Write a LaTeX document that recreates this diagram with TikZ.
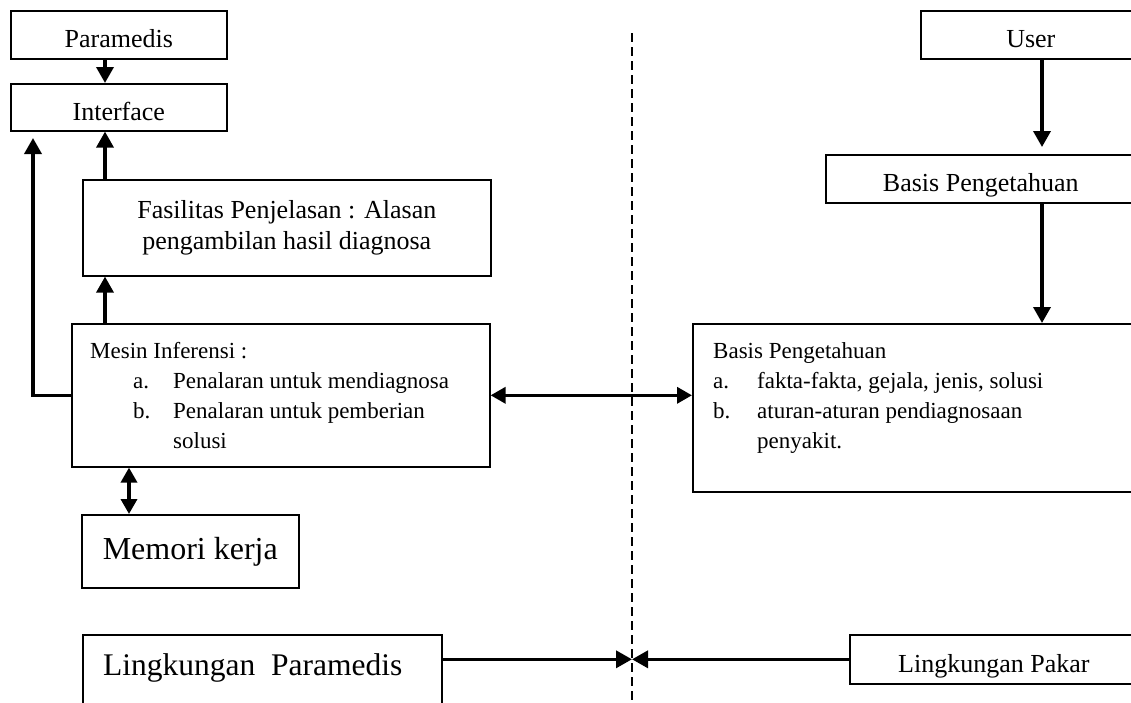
\documentclass[tikz,border=0pt]{standalone}
\usepackage{fontspec}
\setmainfont{Liberation Serif}
\usetikzlibrary{arrows.meta}

\begin{document}
\begin{tikzpicture}[x=1pt, y=-1pt,
        box/.style={draw, line width=1.6pt, anchor=north west, inner sep=0pt, align=center,
                    font=\fontsize{26}{31}\selectfont},
        single/.style={text height=26pt, text depth=0pt},
        txt/.style={anchor=north west, inner sep=0pt, align=left, font=\fontsize{23}{30}\selectfont},
        arrow/.style={-{Triangle[length=16pt,width=17pt]}, line width=3.5pt},
        dbl/.style={{Triangle[length=15pt,width=16pt]}-{Triangle[length=15pt,width=16pt]}, line width=3.5pt},
        divider/.style={line width=2pt, dash pattern=on 9pt off 5pt}
    ]
        \clip (0,0) rectangle (1131,702);

        \node[box, single, minimum width=216pt, minimum height=48pt] (paramedis) at (10,10) {Paramedis};
        \node[box, single, minimum width=216pt, minimum height=47pt] (interface) at (10,83) {Interface};
        \node[box, minimum width=408pt, minimum height=96pt] (fasilitas) at (82,179) {Fasilitas Penjelasan : Alasan\\pengambilan hasil diagnosa};
        \node[box, minimum width=418pt, minimum height=143pt] (mesin) at (71,323) {};
        \node[box, minimum width=217pt, minimum height=73pt, font=\fontsize{32}{38}\selectfont] (memori) at (81,514) {Memori kerja};
        \node[box, minimum width=359pt, minimum height=100pt] (lparamedis) at (82,634) {};
        \node[box, single, minimum width=220pt, minimum height=48pt] (user) at (920,10) {User};
        \node[box, single, minimum width=310pt, minimum height=48pt] (kb) at (825,154) {Basis Pengetahuan};
        \node[box, minimum width=460pt, minimum height=168pt] (basis) at (692,323) {};
        \node[box, single, minimum width=288pt, minimum height=49pt] (lpakar) at (849,634) {Lingkungan Pakar};

        \node[txt] (mesintxt) at ([shift={(19,19)}]mesin.north west) {Mesin Inferensi :\\
            \hspace*{43pt}\makebox[40pt][l]{a.}Penalaran untuk mendiagnosa\\
            \hspace*{43pt}\makebox[40pt][l]{b.}Penalaran untuk pemberian\\
            \hspace*{83pt}solusi};
        \node[txt] (basistxt) at ([shift={(21,19)}]basis.north west) {Basis Pengetahuan\\
            \makebox[44pt][l]{a.}fakta-fakta, gejala, jenis, solusi\\
            \makebox[44pt][l]{b.}aturan-aturan pendiagnosaan\\
            \hspace*{44pt}penyakit.};
        \node[txt, font=\fontsize{31.5}{38}\selectfont] (lparamedistxt) at ([shift={(21,19)}]lparamedis.north west) {Lingkungan\ \ Paramedis};

        \coordinate (dtop) at (632,33);
        \coordinate (dbot) at (632,710);
        \draw[divider] (dtop) -- (dbot);

        \coordinate (lx) at (105,0);
        \coordinate (fb) at (33,138);
        \coordinate (mx) at (129,0);
        \coordinate (ux) at (1042,0);

        \draw[arrow] (paramedis.south -| lx) -- (interface.north -| lx);
        \draw[arrow] (fasilitas.north -| lx) -- (interface.south -| lx);
        \draw[arrow] (mesin.north -| lx) -- (fasilitas.south -| lx);
        \draw[arrow] (mesin.west) -- (mesin.west -| fb) -- (fb);
        \draw[dbl] (mesin.south -| mx) -- (memori.north -| mx);
        \draw[dbl] (mesin.east) -- (mesin.east -| basis.west);
        \draw[arrow, shorten >=7pt] (user.south -| ux) -- (kb.north -| ux);
        \draw[arrow] (kb.south -| ux) -- (basis.north -| ux);
        \draw[arrow] (lpakar.west -| lparamedis.east) -- (lpakar.west -| dtop);
        \draw[arrow] (lpakar.west) -- (lpakar.west -| dtop);
    \end{tikzpicture}
\end{document}
